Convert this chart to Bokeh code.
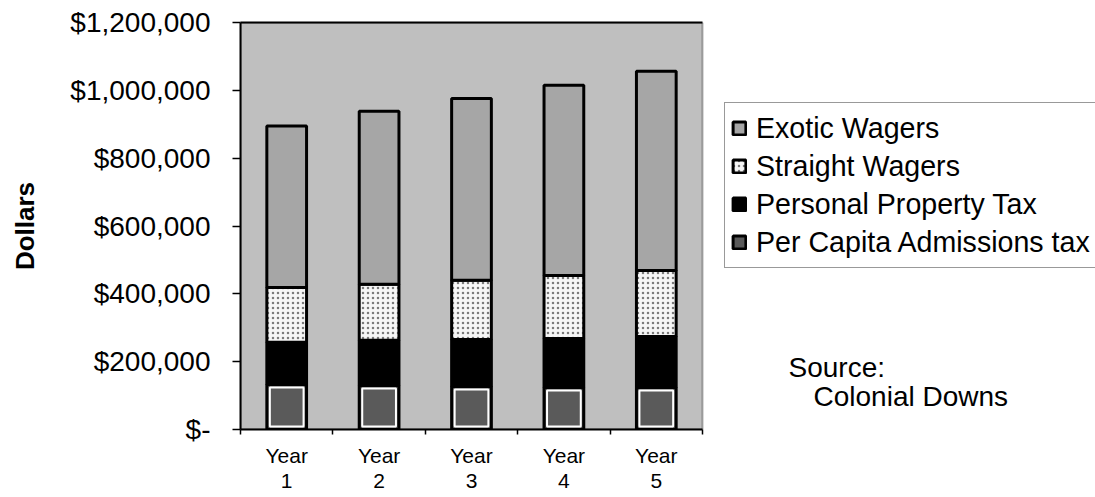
import numpy as np
from bokeh.plotting import figure
from bokeh.models import (Range1d, FixedTicker, Legend, LegendItem, Label, ColumnDataSource,
                          BoxAnnotation, LinearAxis)
from bokeh.embed import file_html
from bokeh.resources import INLINE

# ---- data ----
years = ["Year 1", "Year 2", "Year 3", "Year 4", "Year 5"]
year_labels = ["Year\n1", "Year\n2", "Year\n3", "Year\n4", "Year\n5"]
per_capita = [133000, 130000, 127000, 124000, 124000]
personal_property = [124000, 133000, 138000, 144000, 150000]
straight_wagers = [162000, 165000, 175000, 186000, 195000]
exotic_wagers = [476000, 510000, 536000, 561000, 587000]
series_names = ["Exotic Wagers", "Straight Wagers", "Personal Property Tax", "Per Capita Admissions tax"]
y_ticks = [0, 200000, 400000, 600000, 800000, 1000000, 1200000]
y_tick_labels = ["$-", "$200,000", "$400,000", "$600,000", "$800,000", "$1,000,000", "$1,200,000"]
source_lines = ["Source:", "Colonial Downs"]

n = len(years)
centers = [i + 0.5 for i in range(n)]
bounds = [float(i) for i in range(n + 1)]

s1 = np.array(per_capita, dtype=float)
s2 = s1 + np.array(personal_property)
s3 = s2 + np.array(straight_wagers)
s4 = s3 + np.array(exotic_wagers)

BW = 0.43
src = ColumnDataSource(dict(
    x=centers, z=[0.0] * n, s1=s1, s2=s2, s3=s3, s4=s4,
    s1in=s1 - 9000, zin=[9000.0] * n,
))

FONT = "Liberation Sans"
W, H = 1095, 497
LEFT, TOP, BOTTOM = 240, 22, 68
CHART_W = 462  # pixel width of the shaded chart area
x_end = n * (W - LEFT) / CHART_W

p = figure(width=W, height=H, x_range=Range1d(0, x_end), y_range=Range1d(0, y_ticks[-1]),
           output_backend="svg", toolbar_location=None,
           min_border_left=LEFT, min_border_right=0, min_border_top=TOP, min_border_bottom=BOTTOM)
p.background_fill_color = "white"
p.border_fill_color = "white"
p.outline_line_color = None
p.xgrid.grid_line_color = None
p.ygrid.grid_line_color = None

# shaded chart area (spans the categories only)
area = BoxAnnotation(left=0, right=n, fill_color="#bfbfbf", fill_alpha=1,
                     line_color="black", line_width=2, level="underlay")
p.add_layout(area)

r_pc = p.vbar(x="x", width=BW, bottom="z", top="s1", source=src,
              fill_color="#5a5a5a", line_color="black", line_width=3)
p.vbar(x="x", width=BW - 0.065, bottom="zin", top="s1in", source=src,
       fill_color="#5a5a5a", line_color="white", line_width=2)
r_pp = p.vbar(x="x", width=BW, bottom="s1", top="s2", source=src,
              fill_color="black", line_color="black", line_width=3)
r_sw = p.vbar(x="x", width=BW, bottom="s2", top="s3", source=src,
              fill_color="#f6f6f6", line_color="black", line_width=3,
              hatch_pattern="dot", hatch_color="black", hatch_scale=5, hatch_alpha=0.5)
r_ex = p.vbar(x="x", width=BW, bottom="s3", top="s4", source=src,
              fill_color="#a6a6a6", line_color="black", line_width=3)

# y axis
ya = p.yaxis[0]
ya.ticker = FixedTicker(ticks=y_ticks, minor_ticks=[])
ya.major_label_overrides = {t: l for t, l in zip(y_ticks, y_tick_labels)}
ya.major_label_text_font = FONT
ya.major_label_text_font_size = "28px"
ya.major_label_text_color = "black"
ya.major_tick_out = 8
ya.major_tick_in = 0
ya.major_tick_line_width = 1.5
ya.major_tick_line_color = "black"
ya.major_label_standoff = 22
ya.axis_line_color = "black"
ya.axis_line_width = 2
ya.axis_label = "Dollars"
ya.axis_label_text_font = FONT
ya.axis_label_text_font_style = "bold"
ya.axis_label_text_font_size = "26px"
ya.axis_label_text_color = "black"
ya.axis_label_standoff = 27

# x axis
xa = p.xaxis[0]
xa.bounds = (0, n)
xa.ticker = FixedTicker(ticks=centers, minor_ticks=bounds)
xa.major_label_overrides = {c: l for c, l in zip(centers, year_labels)}
xa.major_label_text_font = FONT
xa.major_label_text_font_size = "21px"
xa.major_label_text_color = "black"
xa.major_label_text_line_height = 1.12
xa.major_tick_out = 0
xa.major_tick_in = 0
xa.minor_tick_out = 5
xa.minor_tick_in = 0
xa.minor_tick_line_color = "black"
xa.minor_tick_line_width = 1.5
xa.major_label_standoff = 9
xa.axis_line_color = "black"
xa.axis_line_width = 2

# top edge of the chart area
top_axis = LinearAxis(bounds=(0, n), ticker=FixedTicker(ticks=[], minor_ticks=[]),
                      axis_line_color="black", axis_line_width=2,
                      major_tick_out=0, major_tick_in=0, minor_tick_out=0, minor_tick_in=0,
                      major_label_text_font_size="0px", major_label_standoff=0)
p.add_layout(top_axis, "above")

legend = Legend(items=[
    LegendItem(label=series_names[0], renderers=[r_ex]),
    LegendItem(label=series_names[1], renderers=[r_sw]),
    LegendItem(label=series_names[2], renderers=[r_pp]),
    LegendItem(label=series_names[3], renderers=[r_pc]),
], location=(724 - LEFT, 161))
legend.label_text_font = FONT
legend.label_text_font_size = "28.6px"
legend.label_text_color = "black"
legend.label_height = 38
legend.glyph_height = 16
legend.glyph_width = 16
legend.label_standoff = 9
legend.spacing = 0
legend.padding = 6
legend.margin = 0
legend.border_line_color = "#333333"
legend.border_line_width = 1.5
legend.background_fill_color = "white"
legend.background_fill_alpha = 1
p.add_layout(legend, "center")

lab1 = Label(x=548, y=62, x_units="screen", y_units="screen", text=source_lines[0],
             text_font=FONT, text_font_size="28px", text_color="black", text_baseline="alphabetic")
lab2 = Label(x=573, y=33, x_units="screen", y_units="screen", text=source_lines[1],
             text_font=FONT, text_font_size="28px", text_color="black", text_baseline="alphabetic")
p.add_layout(lab1)
p.add_layout(lab2)

open("out.html", "w").write(file_html(p, INLINE))
